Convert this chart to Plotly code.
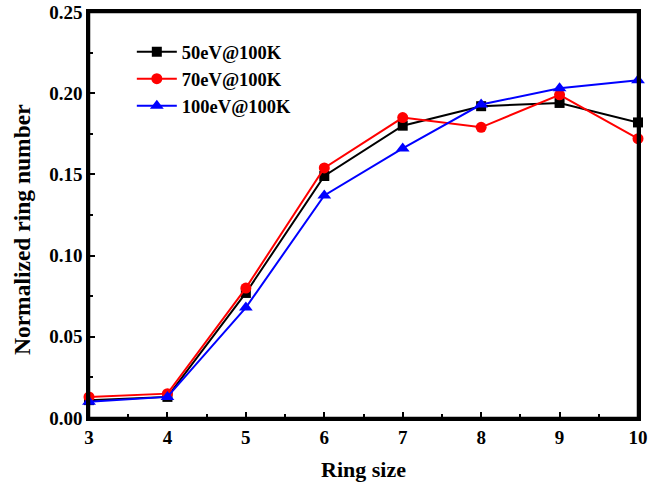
import plotly.graph_objects as go

ring_size = [3, 4, 5, 6, 7, 8, 9, 10]
e50 = [0.011, 0.013, 0.077, 0.149, 0.180, 0.192, 0.194, 0.182]
e70 = [0.013, 0.015, 0.080, 0.154, 0.185, 0.179, 0.199, 0.172]
e100 = [0.010, 0.013, 0.068, 0.137, 0.166, 0.193, 0.203, 0.208]

names = ["50eV@100K", "70eV@100K", "100eV@100K"]
series = [e50, e70, e100]
colors = ["#000000", "#ff0000", "#0000ff"]
symbols = ["square", "circle", "triangle-up"]
msizes = [10, 11, 12]

FONT = "Liberation Serif, Times New Roman, serif"

fig = go.Figure()
for n, s, c, m, ms in zip(names, series, colors, symbols, msizes):
    fig.add_trace(go.Scatter(
        x=ring_size, y=s, name="<b>" + n + "</b>", mode="lines+markers",
        line=dict(color=c, width=2),
        marker=dict(symbol=m, size=ms, color=c),
        cliponaxis=False,
    ))

fig.update_layout(
    width=657, height=488,
    margin=dict(l=89, r=19, t=12, b=70, autoexpand=False),
    paper_bgcolor="white", plot_bgcolor="white",
    font=dict(family=FONT, size=19, color="black"),
    showlegend=True,
    legend=dict(x=0.078, y=0.948, xanchor="left", yanchor="top",
                bgcolor="rgba(0,0,0,0)", font=dict(size=18.5, family=FONT, color="black"),
                tracegroupgap=0, itemwidth=40),
    shapes=[dict(type="rect", xref="paper", yref="paper", x0=0, y0=0, x1=1, y1=1,
                 line=dict(color="black", width=2.5), layer="above")],
    annotations=[dict(text="<b>Normalized ring number</b>", textangle=-90,
                      xref="paper", yref="paper", x=-0.122, y=0.463,
                      xanchor="center", yanchor="middle", showarrow=False,
                      font=dict(size=23.5, family=FONT, color="black"))],
)
fig.update_xaxes(
    range=[3, 10], tickmode="linear", tick0=3, dtick=1, automargin=False,
    ticks="inside", ticklen=6, tickwidth=2, tickcolor="black",
    minor=dict(ticks="inside", ticklen=4, tickwidth=2, dtick=0.5, tickcolor="black"),
    showline=True, linewidth=2.5, linecolor="black", mirror=True,
    showgrid=False, zeroline=False,
    tickfont=dict(size=19, family=FONT, color="black"),
    title=dict(text="<b>Ring size</b>", font=dict(size=22, family=FONT, color="black"), standoff=16),
    tickprefix="<b>", ticksuffix="</b>",
)
fig.update_yaxes(
    range=[0, 0.25], tickmode="linear", tick0=0, dtick=0.05, tickformat=".2f", automargin=False,
    ticks="inside", ticklen=6, tickwidth=2, tickcolor="black",
    minor=dict(ticks="inside", ticklen=4, tickwidth=2, dtick=0.025, tickcolor="black"),
    showline=True, linewidth=2.5, linecolor="black", mirror=True,
    showgrid=False, zeroline=False,
    tickfont=dict(size=19, family=FONT, color="black"),
    tickprefix="<b>", ticksuffix="</b>",
)

fig.write_html("out.html", config={"displayModeBar": False},
               post_script="document.body.style.margin='0px';document.body.style.padding='0px';")
